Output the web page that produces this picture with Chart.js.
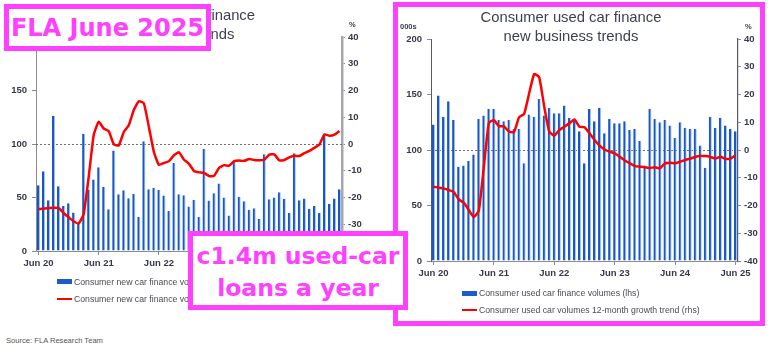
<!DOCTYPE html>
<html>
<head>
<meta charset="utf-8">
<script src="https://cdn.jsdelivr.net/npm/chart.js@4.4.1/dist/chart.umd.min.js"></script>
<style>
  body { margin: 0; background: #fff; width: 768px; height: 351px; position: relative; overflow: hidden;
         font-family: "Liberation Sans", Arial, sans-serif; }
  .abs { position: absolute; }
  canvas { position: absolute; }
  .title { color: #3d4152; font-size: 14.8px; line-height: 19px; text-align: center; white-space: nowrap; width: 300px; }
  .unit { font-size: 7.5px; font-weight: bold; color: #3a3d4d; }
  .leg { font-size: 8.7px; color: #4a4a55; white-space: nowrap; line-height: 10px; }
  .sw-bar { position: absolute; width: 15px; height: 5px; background: #1b5bcb; }
  .sw-line { position: absolute; width: 15px; height: 2px; background: #ff0000; }
  .frame { border: 5px solid #ff40ff; box-sizing: border-box; }
  .stamp { border: 5px solid #ff40ff; box-sizing: border-box; background: #fff; color: #ff40ff;
           font-family: "DejaVu Sans", sans-serif; font-weight: bold; text-align: center; white-space: nowrap; z-index: 10; }
</style>
</head>
<body>

<!-- magenta frame round the used-car chart -->
<div class="abs frame" style="left:393px; top:2px; width:372px; height:324px;"></div>

<canvas id="newChart" width="390" height="280" style="left:0; top:0;"></canvas>
<canvas id="usedChart" width="370" height="290" style="left:390px; top:0;"></canvas>

<!-- titles -->
<div class="abs title" style="left:17px; top:6px;">Consumer new car finance<br>new business trends</div>
<div class="abs title" style="left:421px; top:8px;">Consumer used car finance<br>new business trends</div>

<!-- axis units -->
<div class="abs unit" style="left:349px; top:20px;">%</div>
<div class="abs unit" style="left:400px; top:22px;">000s</div>
<div class="abs unit" style="left:745px; top:22px;">%</div>

<!-- legends -->
<div class="sw-bar" style="left:57px; top:279px;"></div>
<div class="abs leg" style="left:74px; top:277px;">Consumer new car finance volumes (lhs)</div>
<div class="sw-line" style="left:57px; top:298px;"></div>
<div class="abs leg" style="left:74px; top:294px;">Consumer new car finance volumes 12-month growth trend (rhs)</div>

<div class="sw-bar" style="left:462px; top:291px;"></div>
<div class="abs leg" style="left:479px; top:288px;">Consumer used car finance volumes (lhs)</div>
<div class="sw-line" style="left:462px; top:309px;"></div>
<div class="abs leg" style="left:479px; top:305px;">Consumer used car volumes 12-month growth trend (rhs)</div>

<div class="abs" style="left:6px; top:336px; font-size:7.6px; color:#555;">Source: FLA Research Team</div>

<!-- overlay stamps -->
<div class="abs stamp" style="left:4px; top:4px; width:207px; height:47px; font-size:24px; line-height:37px; padding-top:1px;">FLA June 2025</div>
<div class="abs stamp" style="left:188px; top:231px; width:220px; height:79px; font-size:23.5px; line-height:32px; padding-top:4px;">c1.4m used-car<br>loans a year</div>

<script>
// months Jun 20 .. Jun 25
const monthNames = ['Jan', 'Feb', 'Mar', 'Apr', 'May', 'Jun', 'Jul', 'Aug', 'Sep', 'Oct', 'Nov', 'Dec'];
const months = [];
for (let i = 0; i < 61; i++) {
    months.push(monthNames[(5 + i) % 12] + ' ' + (20 + Math.floor((5 + i) / 12)));
}
const tickLabels = ['Jun 20', 'Jun 21', 'Jun 22', 'Jun 23', 'Jun 24', 'Jun 25'];

// consumer new car finance volumes (000s) and 12-month growth trend (%)
const newVolumes = [
    61.5, 74.5, 47.5, 126.4, 60.6, 42, 44.7, 36, 26, 109.6,
    57.5, 66.8, 78.3, 60, 39, 94, 53, 56.8, 49.4, 53.4,
    31.7, 102.5, 57.8, 59, 57, 51.9, 37.3, 82.3, 53, 52,
    41.6, 47.8, 31.7, 95.3, 47.2, 54, 63, 50, 33.2, 84.2,
    50.6, 46.6, 38.5, 40, 30, 90.4, 48.4, 50, 55, 48.8,
    35.4, 91.3, 47.5, 49, 39.4, 42, 35.4, 107.5, 44, 49,
    57.8
];
const newGrowth = [
    -24.3, -24.2, -24, -23.8, -23.9, -25.8, -27.4, -28.9, -29.7, -26.2,
    -12.4, 3.3, 8.3, 5.8, 4.8, -0.1, -0.5, 4.5, 7, 12.7,
    16, 15.2, 6.4, -3, -7.8, -7.1, -6.4, -4.2, -3.1, -5.9,
    -7.4, -10.1, -10.6, -10.8, -12, -11.9, -8.9, -7.9, -8.1, -6.4,
    -6.2, -6.3, -5.6, -6, -6.1, -5.9, -4, -3.9, -6.1, -6,
    -5, -4.4, -4.5, -3.4, -2.6, -1.4, -0.2, 3.6, 3.1, 3.5,
    4.9
];

// consumer used car finance volumes (000s) and 12-month growth trend (%)
const usedVolumes = [
    123, 149, 130, 144, 127, 85, 86, 90, 96, 128,
    131, 137, 137, 127, 126, 127, 119, 119, 88, 132,
    130, 146, 131, 138, 133, 133, 140, 129, 127, 117,
    88, 137, 126, 138, 115, 128, 124, 124, 126, 118,
    119, 108, 86, 137, 128, 125, 127, 122, 111, 125,
    120, 119, 119, 104, 84, 130, 120, 129, 122, 119,
    117
];
const usedGrowth = [
    -13.2, -13.6, -13.9, -14.4, -15.1, -17.8, -19, -21.6, -24.2, -21.8,
    -6, 9.8, 10.7, 8.6, 8.5, 6.6, 6.5, 11.8, 13, 20.4,
    27.4, 26.2, 15.6, 6.6, 5.2, 7.2, 8.4, 9.6, 11, 8.4,
    8.2, 6, 3.6, 1.6, 0.2, -0.6, -1.2, -2.4, -3.8, -4.8,
    -5.8, -6, -6.2, -6.5, -6.2, -6.6, -4.8, -4.6, -4.8, -4.2,
    -3.6, -3.1, -2.5, -2.2, -2.2, -2.5, -3.1, -2.4, -3.2, -3.1,
    -1.9
];

Chart.defaults.font.family = '"Liberation Sans", Arial, sans-serif';

const zeroLine = {
    id: 'zeroLine',
    beforeDatasetsDraw(chart) {
        const { ctx, chartArea, scales } = chart;
        const y = Math.round(scales.y1.getPixelForValue(0)) + 0.5;
        ctx.save();
        ctx.strokeStyle = '#707070';
        ctx.lineWidth = 1;
        ctx.setLineDash([2, 2]);
        ctx.beginPath();
        ctx.moveTo(chartArea.left, y);
        ctx.lineTo(chartArea.right, y);
        ctx.stroke();
        ctx.restore();
    }
};

const tickFont = { size: 9.5, weight: 'bold' };
const tickColor = '#363949';

function buildChart(id, volumes, growth, fit) {
    new Chart(document.getElementById(id), {
        type: 'bar',
        data: {
            labels: months,
            datasets: [{
                type: 'line',
                data: growth,
                yAxisID: 'y1',
                borderColor: '#ff0000',
                borderWidth: 2.5,
                pointRadius: 0,
                tension: 0.15,
                order: 0
            }, {
                data: volumes,
                yAxisID: 'y',
                backgroundColor: '#1957c8',
                borderColor: '#a9c6f2',
                borderWidth: { top: 0, right: 1, bottom: 0, left: 0 },
                categoryPercentage: 1,
                barPercentage: 0.62,
                order: 1
            }]
        },
        options: {
            responsive: false,
            animation: false,
            devicePixelRatio: 1,
            layout: { padding: { top: fit.top, left: 0, right: 0, bottom: 0 } },
            plugins: {
                legend: { display: false },
                tooltip: { enabled: false }
            },
            scales: {
                x: {
                    offset: true,
                    grid: {
                        offset: false,
                        drawOnChartArea: false,
                        tickLength: 4,
                        tickColor: c => tickLabels.includes(months[c.index]) ? '#8c8c8c' : 'rgba(0,0,0,0)'
                    },
                    border: { color: '#8c8c8c' },
                    ticks: {
                        autoSkip: false,
                        maxRotation: 0,
                        padding: 3,
                        font: tickFont,
                        color: tickColor,
                        callback: (v, i) => tickLabels.includes(months[i]) ? months[i] : ''
                    },
                    afterFit: s => { s.height = fit.bottom; }
                },
                y: {
                    position: 'left',
                    min: 0,
                    max: 200,
                    grid: { drawOnChartArea: false, tickLength: 4, tickColor: '#8c8c8c' },
                    border: { color: fit.leftAxis, width: 1 },
                    ticks: { stepSize: 50, padding: 5, font: tickFont, color: tickColor },
                    afterFit: s => { s.width = fit.left; }
                },
                y1: {
                    position: 'right',
                    min: -40,
                    max: 40,
                    grid: { drawOnChartArea: false, tickLength: 3, tickColor: '#8c8c8c' },
                    border: { color: fit.rightAxis, width: fit.rightWidth },
                    ticks: { stepSize: 10, padding: 3, font: tickFont, color: tickColor },
                    afterFit: s => { s.width = fit.right; }
                }
            }
        },
        plugins: [zeroLine]
    });
}

buildChart('newChart', newVolumes, newGrowth,
    { top: 37, left: 36, right: 48, bottom: 29, leftAxis: '#8c8c8c', rightAxis: '#a6a6ae', rightWidth: 2.5 });
buildChart('usedChart', usedVolumes, usedGrowth,
    { top: 39, left: 41, right: 22, bottom: 29, leftAxis: '#5a5a66', rightAxis: '#5a5a66', rightWidth: 1.2 });
</script>
</body>
</html>
